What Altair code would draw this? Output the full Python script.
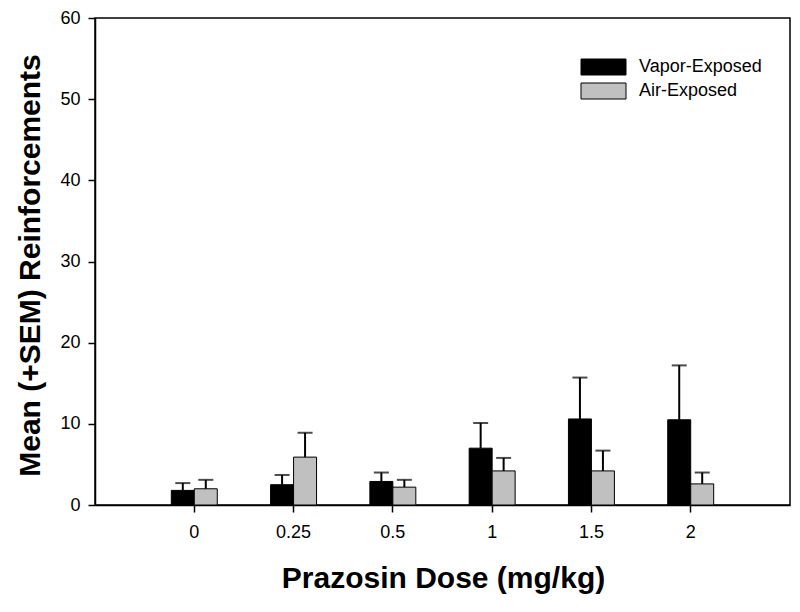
import altair as alt
import pandas as pd

doses = ["0", "0.25", "0.5", "1", "1.5", "2"]
groups = ["Vapor-Exposed", "Air-Exposed"]
vapor_mean = [1.8, 2.5, 2.9, 7.0, 10.6, 10.5]
vapor_sem = [0.9, 1.2, 1.1, 3.1, 5.1, 6.7]
air_mean = [2.0, 5.9, 2.2, 4.2, 4.2, 2.6]
air_sem = [1.1, 3.0, 0.9, 1.6, 2.5, 1.4]
colors = ["#000000", "#c0c0c0"]

rows = []
for d, m, s in zip(doses, vapor_mean, vapor_sem):
    rows.append({"dose": d, "group": groups[0], "mean": m, "upper": m + s})
for d, m, s in zip(doses, air_mean, air_sem):
    rows.append({"dose": d, "group": groups[1], "mean": m, "upper": m + s})
df = pd.DataFrame(rows)

FONT = "Liberation Sans, Arial, sans-serif"

x = alt.X(
    "dose:N",
    sort=doses,
    scale=alt.Scale(paddingInner=0.537, paddingOuter=0.7685),
    axis=alt.Axis(
        title="Prazosin Dose (mg/kg)",
        labelAngle=0,
        labelFont=FONT,
        labelFontSize=18,
        labelColor="black",
        labelPadding=11,
        tickSize=7,
        tickColor="black",
        tickWidth=1.5,
        domainColor="black",
        domainWidth=1.5,
        titleFont=FONT,
        titleFontSize=30,
        titleFontWeight="bold",
        titleColor="black",
        titleBaseline="alphabetic",
        titleX=348,
        titleY=82,
        titleAnchor="middle",
    ),
)
xoff = alt.XOffset("group:N", sort=groups, scale=alt.Scale(domain=groups, paddingInner=0, paddingOuter=0))

y = alt.Y(
    "mean:Q",
    scale=alt.Scale(domain=[0, 60], nice=False),
    axis=alt.Axis(
        title="Mean (+SEM) Reinforcements",
        values=[0, 10, 20, 30, 40, 50, 60],
        grid=False,
        labelFont=FONT,
        labelFontSize=18,
        labelColor="black",
        labelPadding=8,
        tickSize=7,
        tickColor="black",
        tickWidth=1.5,
        domainColor="black",
        domainWidth=1.5,
        titleFont=FONT,
        titleFontSize=30,
        titleFontWeight="bold",
        titleColor="black",
        titleAngle=-90,
        titleBaseline="middle",
        titleAlign="center",
        titleX=-65,
        titleY=247,
    ),
)

color = alt.Color(
    "group:N",
    sort=groups,
    scale=alt.Scale(domain=groups, range=colors),
    legend=alt.Legend(
        title=None,
        orient="none",
        legendX=499.5,
        legendY=40,
        symbolType="M-2.8125,-1H2.8125V1H-2.8125Z",
        symbolSize=256,
        symbolStrokeColor="black",
        symbolStrokeWidth=1,
        symbolOpacity=1,
        labelFont=FONT,
        labelFontSize=18,
        labelColor="black",
        labelOffset=26.5,
        rowPadding=4,
        padding=0,
    ),
)

bars = alt.Chart(df).mark_bar(stroke="black", strokeWidth=1, opacity=1).encode(
    x=x, xOffset=xoff, y=y, color=color
)

err = alt.Chart(df).mark_rule(color="black", strokeWidth=2).encode(
    x=alt.X("dose:N", sort=doses),
    xOffset=xoff,
    y="mean:Q",
    y2="upper:Q",
)

caps = alt.Chart(df).mark_tick(color="black", thickness=2, size=15, orient="horizontal").encode(
    x=alt.X("dose:N", sort=doses),
    xOffset=xoff,
    y="upper:Q",
)

chart = (
    alt.layer(bars, err, caps)
    .properties(
        width=695,
        height=487,
        autosize=alt.AutoSizeParams(type="none"),
        padding={"left": 87, "top": 10, "right": 2, "bottom": 95},
        background="white",
    )
    .configure_view(stroke="black", strokeWidth=1.5)
)

chart.save("out.html", embed_options={"renderer": "svg", "actions": False})
